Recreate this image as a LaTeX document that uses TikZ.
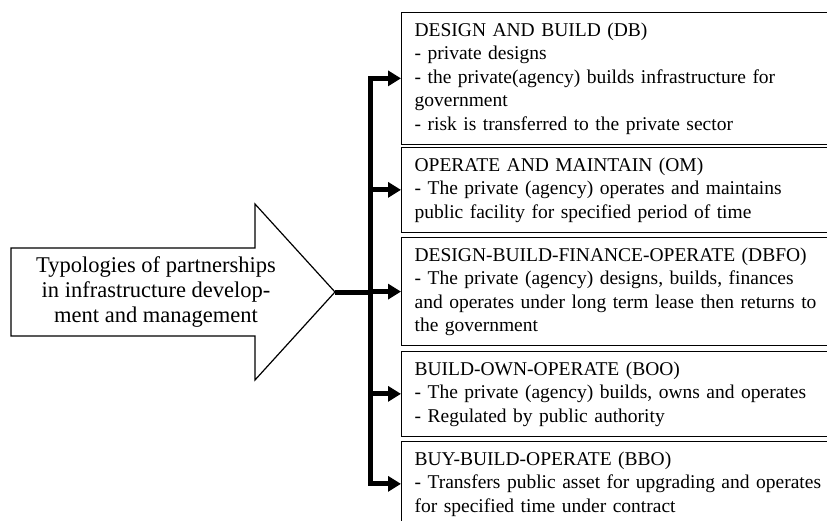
\documentclass[tikz,border=0pt]{standalone}
\usepackage{fontspec}
\setmainfont{Liberation Serif}
\usetikzlibrary{arrows.meta}
\newcommand{\boxfont}{\fontsize{19.5pt}{23.5pt}\selectfont}
\tikzset{
    typebox/.style={draw, line width=1.2pt, anchor=north west, minimum width=440pt,
        text width=414pt, inner xsep=13pt, inner ysep=7pt, align=left, font=\boxfont},
    feed/.style={line width=5pt, line join=miter, -{Triangle[length=13pt,width=15pt]}}
}
\begin{document}
\begin{tikzpicture}[x=1pt,y=-1pt]
    \useasboundingbox (0,0) rectangle (827,520);
    \draw[line width=1.2pt, line join=miter] (11,248) -- (255,248) -- (255,204) -- (335,292)
        -- (255,380) -- (255,336) -- (11,336) -- cycle;
    \coordinate (tip) at (335,292);
    \coordinate (trunk) at (370,292);
    \node[align=center, font=\fontsize{22.5pt}{25pt}\selectfont] (typo) at (156,292)
        {Typologies of partnerships\\in infrastructure develop-\\ment and management};
    \node[typebox] (DB) at (401,12)
        {\strut DESIGN AND BUILD (DB)\\
        - private designs\\
        - the private(agency) builds infrastructure for\\
        government\\
        - risk is transferred to the private sector\strut};
    \node[typebox] (OM) at (401,147)
        {\strut OPERATE AND MAINTAIN (OM)\\
        - The private (agency) operates and maintains\\
        public facility for specified period of time\strut};
    \node[typebox] (DBFO) at (401,237)
        {\strut DESIGN-BUILD-FINANCE-OPERATE (DBFO)\\
        - The private (agency) designs, builds, finances\\
        and operates under long term lease then returns to\\
        the government\strut};
    \node[typebox] (BOO) at (401,351)
        {\strut BUILD-OWN-OPERATE (BOO)\\
        - The private (agency) builds, owns and operates\\
        - Regulated by public authority\strut};
    \node[typebox] (BBO) at (401,441)
        {\strut BUY-BUILD-OPERATE (BBO)\\
        - Transfers public asset for upgrading and operates\\
        for specified time under contract\strut};
    \draw[line width=5pt] (tip) -- (trunk);
    \foreach \b in {DB,OM,DBFO,BOO,BBO}
        \draw[feed] (trunk) |- (\b.west);
\end{tikzpicture}
\end{document}
